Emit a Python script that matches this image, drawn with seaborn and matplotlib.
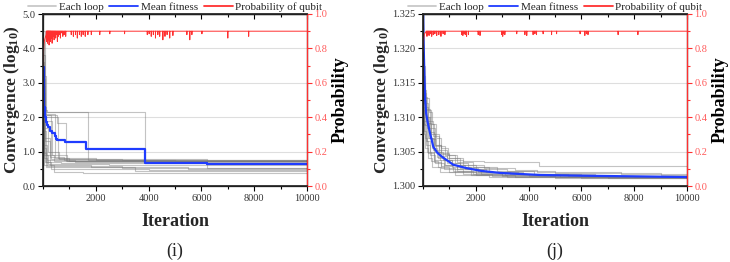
import numpy as np
import pandas as pd
import matplotlib
matplotlib.use("Agg")
import matplotlib.pyplot as plt
from matplotlib.lines import Line2D
from matplotlib.ticker import MultipleLocator, FormatStrFormatter
import seaborn as sns

# ---------------- data : panel (i) ----------------
loops_i = [
    [(0, 4.2), (40, 2.3), (120, 2.16), (3870, 0.74)],
    [(0, 3.8), (60, 2.2), (150, 2.16), (1690, 0.76)],
    [(0, 3.5), (50, 2.05), (300, 0.78), (6200, 0.52)],
    [(0, 3.2), (100, 2.05), (520, 1.82), (870, 0.74)],
    [(0, 4.5), (60, 2.1), (450, 0.80), (2000, 0.75)],
    [(0, 2.8), (30, 1.6), (100, 0.90), (400, 0.72)],
    [(0, 3.0), (40, 1.2), (150, 0.75), (1200, 0.70)],
    [(0, 2.5), (50, 0.9), (200, 0.65), (2500, 0.61)],
    [(0, 2.2), (40, 0.8), (150, 0.58), (3000, 0.51)],
    [(0, 2.6), (60, 0.7), (300, 0.50), (4000, 0.465)],
    [(0, 2.0), (50, 0.6), (400, 0.42), (1500, 0.39)],
    [(0, 3.3), (40, 1.4), (250, 0.85), (800, 0.76), (5000, 0.74)],
    [(0, 2.9), (70, 1.9), (350, 0.90), (900, 0.72)],
    [(0, 3.6), (50, 1.7), (200, 1.00), (600, 0.78), (3000, 0.755)],
    [(0, 2.4), (30, 1.1), (120, 0.70), (700, 0.68)],
    [(0, 2.7), (60, 1.3), (260, 0.62), (1800, 0.55), (5500, 0.50)],
    [(0, 3.1), (90, 2.0), (550, 0.80), (1000, 0.72)],
    [(0, 2.3), (40, 0.95), (100, 0.56), (3500, 0.45)],
]
mean_iter_i = [0, 20, 40, 70, 100, 145, 200, 274, 335, 440, 490, 520, 820,
               1645, 3860, 6200, 10000]
mean_val_i = [3.45, 2.8, 2.3, 2.0, 1.85, 1.77, 1.72, 1.60, 1.53, 1.45, 1.37,
              1.34, 1.28, 1.07, 0.66, 0.63, 0.63]
prob_base_i = 0.9
prob_ramp_iter_i = [0, 10, 25, 40, 60, 80, 100, 120]
prob_ramp_val_i = [0.70, 0.76, 0.80, 0.83, 0.85, 0.86, 0.87, 0.88]
prob_dip_iter_i = [140, 155, 170, 185, 200, 215, 230, 250, 265, 280, 300, 320,
                   345, 370, 395, 420, 450, 480, 510, 545, 580, 620, 660, 700,
                   750, 800, 860,
                   1070, 1150, 1230, 1300, 1380, 1450, 1520, 1600, 1700, 1830,
                   2150, 2530, 3090, 3950, 4020, 4100, 4180, 4260, 4350, 4420,
                   4540, 4620, 4700, 4800, 4920, 5450, 5560, 5640, 6020, 7000,
                   7790]
prob_dip_val_i = [0.84, 0.86, 0.83, 0.87, 0.85, 0.88, 0.82, 0.86, 0.87, 0.84,
                  0.88, 0.86, 0.83, 0.87, 0.88, 0.85, 0.87, 0.86, 0.88, 0.84,
                  0.87, 0.88, 0.86, 0.89, 0.87, 0.88, 0.87,
                  0.88, 0.87, 0.88, 0.86, 0.88, 0.87, 0.88, 0.87, 0.88, 0.88,
                  0.88, 0.885, 0.885, 0.88, 0.885, 0.87, 0.88, 0.86, 0.88,
                  0.87, 0.85, 0.87, 0.88, 0.86, 0.875, 0.88, 0.85, 0.88,
                  0.885, 0.86, 0.87]

# ---------------- data : panel (j) ----------------
loops_j = [
    [(0, 1.3160), (60, 1.3130), (150, 1.3110), (300, 1.3085), (450, 1.3060), (700, 1.3048),
     (1000, 1.3041), (1500, 1.3037), (2300, 1.3035), (4400, 1.3029)],
    [(0, 1.3145), (80, 1.3120), (200, 1.3095), (380, 1.3072), (600, 1.3052), (900, 1.3040),
     (1400, 1.3030), (2000, 1.3025), (3200, 1.3022), (5000, 1.3019), (9000, 1.3016)],
    [(0, 1.3185), (50, 1.3140), (120, 1.3100), (250, 1.3070), (400, 1.3050), (650, 1.3038),
     (1100, 1.3028), (1800, 1.3020), (3000, 1.3016), (6000, 1.3013)],
    [(0, 1.3130), (70, 1.3095), (180, 1.3070), (330, 1.3055), (520, 1.3042), (800, 1.3030),
     (1300, 1.3022), (2200, 1.3017), (4000, 1.3014), (7000, 1.3012)],
    [(0, 1.3120), (40, 1.3090), (100, 1.3065), (200, 1.3048), (400, 1.3035), (700, 1.3026),
     (1200, 1.3020), (2000, 1.3016), (3500, 1.3013)],
    [(0, 1.3150), (90, 1.3128), (220, 1.3108), (350, 1.3090), (500, 1.3070), (700, 1.3055),
     (950, 1.3045), (1300, 1.3035), (1900, 1.3028), (2800, 1.3022), (4200, 1.3018), (6500, 1.3015)],
    [(0, 1.3110), (50, 1.3080), (120, 1.3060), (260, 1.3045), (450, 1.3033), (800, 1.3024),
     (1500, 1.3018), (2600, 1.3015), (5000, 1.3012)],
    [(0, 1.3175), (60, 1.3135), (130, 1.3112), (280, 1.3090), (420, 1.3075), (600, 1.3058),
     (850, 1.3045), (1200, 1.3034), (1700, 1.3027), (2500, 1.3021), (3800, 1.3017), (6000, 1.3014)],
    [(0, 1.3100), (30, 1.3075), (90, 1.3055), (180, 1.3040), (350, 1.3028), (650, 1.3020),
     (1200, 1.3016), (2500, 1.3013)],
    [(0, 1.3140), (70, 1.3110), (160, 1.3085), (300, 1.3068), (480, 1.3050), (750, 1.3038),
     (1100, 1.3030), (1600, 1.3024), (2400, 1.3020), (3600, 1.3017), (5500, 1.3014)],
    [(0, 1.3125), (100, 1.3100), (240, 1.3078), (400, 1.3058), (600, 1.3044), (900, 1.3034),
     (1400, 1.3026), (2100, 1.3021), (3300, 1.3018), (4800, 1.3015), (8000, 1.3013)],
    [(0, 1.3160), (45, 1.3120), (110, 1.3092), (230, 1.3070), (380, 1.3052), (560, 1.3040),
     (850, 1.3031), (1300, 1.3024), (2000, 1.3019), (3100, 1.3016), (5200, 1.3013)],
    [(0, 1.3095), (60, 1.3070), (150, 1.3050), (300, 1.3036), (550, 1.3027), (1000, 1.3020),
     (1800, 1.3016), (3200, 1.3013), (6000, 1.3012)],
    [(0, 1.3138), (80, 1.3115), (190, 1.3092), (320, 1.3075), (470, 1.3060), (680, 1.3047),
     (1000, 1.3038), (1500, 1.3031), (2300, 1.3026), (3500, 1.3023), (4300, 1.3020), (7500, 1.3017)],
    [(0, 1.3115), (55, 1.3088), (140, 1.3066), (270, 1.3050), (430, 1.3038), (700, 1.3029),
     (1150, 1.3022), (1900, 1.3018), (3000, 1.3015), (5000, 1.3013)],
]
mean_iter_j = [0, 20, 40, 60, 80, 120, 180, 265, 390, 550, 770, 1000, 1140,
               1650, 2200, 2920, 4430, 6000, 8000, 10000]
mean_val_j = [1.3265, 1.3215, 1.3180, 1.3150, 1.3125, 1.3105, 1.3092, 1.3077,
              1.3057, 1.3048, 1.3041, 1.3035, 1.3031, 1.3026, 1.3022, 1.3019,
              1.3016, 1.3015, 1.3014, 1.3013]
prob_base_j = 0.9
prob_ramp_iter_j = [0, 15, 30, 50, 80, 110]
prob_ramp_val_j = [0.78, 0.83, 0.86, 0.88, 0.89, 0.895]
prob_dip_iter_j = [150, 190, 230, 280, 330, 390, 450, 520, 600, 680, 760, 830,
                   1470, 1510, 1550, 1600, 1650, 1720, 2090, 2160, 2980, 3020,
                   3060, 3100, 3550, 3860, 3930, 4170, 4240, 4300, 4550, 4870,
                   5060, 5950, 6130, 6190, 6250, 7390, 8140]
prob_dip_val_j = [0.87, 0.88, 0.875, 0.885, 0.87, 0.88, 0.885, 0.875, 0.88,
                  0.87, 0.885, 0.88, 0.88, 0.875, 0.885, 0.88, 0.87, 0.88,
                  0.88, 0.875, 0.88, 0.87, 0.885, 0.88, 0.885, 0.88, 0.875,
                  0.88, 0.885, 0.88, 0.885, 0.88, 0.885, 0.885, 0.875, 0.885,
                  0.88, 0.88, 0.88]

X_MAX = 10000
legend_labels = ["Each loop", "Mean fitness", "Probability of qubit"]

# ---------------- style ----------------
sns.set_theme(style="white")
plt.rcParams["font.family"] = ["Liberation Serif", "DejaVu Serif"]
plt.rcParams["mathtext.fontset"] = "custom"
plt.rcParams["mathtext.rm"] = "Liberation Serif"
plt.rcParams["mathtext.bf"] = "Liberation Serif:bold"
plt.rcParams["mathtext.default"] = "bf"

GRAY = "#7a7a7a"
BLUE = "#1f3cff"
RED = "#ff3030"
RED_TXT = "#ff5a5a"

fig = plt.figure(figsize=(7.3, 2.62), dpi=100)
W, H = 730, 262


def loops_frame(loops):
    rows = []
    for k, pts in enumerate(loops):
        for it, v in pts:
            rows.append((k, it, v))
        rows.append((k, X_MAX, pts[-1][1]))
    return pd.DataFrame(rows, columns=["loop", "iter", "val"])


def prob_frame(ramp_x, ramp_y, dip_x, dip_y, base):
    start = ramp_x[-1] + 1
    x = np.arange(start, X_MAX + 1)
    y = np.full(x.shape, base, dtype=float)
    y[np.array(dip_x) - start] = dip_y
    return pd.DataFrame({"iter": np.concatenate([ramp_x, x]),
                         "p": np.concatenate([ramp_y, y])})


def panel(left_px, loops, m_x, m_y, m_steps, prob_df, ylim, ymaj, ymin, yfmt,
          caption, ylab_x):
    ax = fig.add_axes([left_px / W, (H - 186) / H, 264 / W, 172 / H])
    df = loops_frame(loops)
    sns.lineplot(data=df, x="iter", y="val", units="loop", estimator=None,
                 color=GRAY, alpha=0.45, lw=0.8, drawstyle="steps-post",
                 ax=ax, legend=False)
    mdf = pd.DataFrame({"iter": m_x, "val": m_y})
    sns.lineplot(data=mdf, x="iter", y="val", color=BLUE, lw=1.6, ax=ax,
                 drawstyle="steps-post" if m_steps else "default",
                 estimator=None, sort=False, legend=False)
    ax.set_xlim(0, X_MAX)
    ax.set_ylim(*ylim)
    ax.set_xticks([2000, 4000, 6000, 8000, 10000])
    ax.xaxis.set_minor_locator(MultipleLocator(1000))
    ax.yaxis.set_major_locator(MultipleLocator(ymaj))
    ax.yaxis.set_minor_locator(MultipleLocator(ymin))
    ax.yaxis.set_major_formatter(FormatStrFormatter(yfmt))
    ax.grid(axis="y", which="major", color="#dedede", lw=0.8)
    ax.tick_params(axis="both", which="both", direction="out", labelsize=7.5,
                   labelcolor="#333333", color="black", width=0.8, pad=2)
    ax.tick_params(which="major", length=3.5)
    ax.tick_params(which="minor", length=2)
    ax.tick_params(axis="x", which="both", bottom=True, top=False)
    ax.tick_params(axis="y", which="both", left=True, right=False)
    for s in ax.spines.values():
        s.set_color("black")
        s.set_linewidth(0.9)
    top = ax.secondary_xaxis("top")
    top.set_xticks([2000, 4000, 6000, 8000, 10000])
    top.xaxis.set_minor_locator(MultipleLocator(1000))
    top.tick_params(which="both", direction="in", labeltop=False, color="black", width=0.8)
    top.tick_params(which="major", length=3.5)
    top.tick_params(which="minor", length=2)
    top.spines["top"].set_linewidth(0.9)

    ax.set_xlabel("Iteration", fontsize=13, fontweight="bold")
    ax.xaxis.set_label_coords(0.5, -0.155)
    ax.set_ylabel(r"Convergence (log$_{10}$)", fontsize=12.5, fontweight="bold")
    ax.yaxis.set_label_coords(ylab_x, 0.5)

    ax2 = ax.twinx()
    sns.lineplot(data=prob_df, x="iter", y="p", color=RED, lw=0.7, ax=ax2,
                 estimator=None, sort=False, legend=False)
    ax2.set_ylim(0, 1.0)
    ax2.set_xlim(0, X_MAX)
    ax2.yaxis.set_major_locator(MultipleLocator(0.2))
    ax2.yaxis.set_minor_locator(MultipleLocator(0.1))
    ax2.yaxis.set_major_formatter(FormatStrFormatter("%.1f"))
    ax2.tick_params(axis="y", which="both", direction="out", labelsize=7.5,
                    labelcolor=RED_TXT, color=RED, width=0.8, pad=2)
    ax2.tick_params(which="major", length=3.5)
    ax2.tick_params(which="minor", length=2)
    ax2.spines["right"].set_color(RED)
    ax2.spines["right"].set_linewidth(0.9)
    ax2.grid(False)
    ax2.set_ylabel("Probability", fontsize=13, fontweight="bold", color="black")
    ax2.yaxis.set_label_coords(1.095, 0.5)

    handles = [Line2D([], [], color="#c8c8c8", lw=1.3),
               Line2D([], [], color=BLUE, lw=1.3),
               Line2D([], [], color=RED, lw=1.3)]
    ax2.legend(handles, legend_labels, loc="lower center", bbox_to_anchor=(0.5, 1.012),
               ncol=3, frameon=False, fontsize=8, handlelength=2.6,
               handletextpad=0.25, columnspacing=0.5, borderaxespad=0, borderpad=0)
    fig.text((left_px + 132) / W, 1 - 251 / H, caption, ha="center", va="center",
             fontsize=13)


panel(43, loops_i, mean_iter_i, mean_val_i, True,
      prob_frame(prob_ramp_iter_i, prob_ramp_val_i, prob_dip_iter_i, prob_dip_val_i, prob_base_i),
      (0, 5.0), 1.0, 0.5, "%.1f", "(i)", -0.08)
panel(423, loops_j, mean_iter_j, mean_val_j, False,
      prob_frame(prob_ramp_iter_j, prob_ramp_val_j, prob_dip_iter_j, prob_dip_val_j, prob_base_j),
      (1.300, 1.325), 0.005, 0.0025, "%.3f", "(j)", -0.118)

fig.savefig("out.png", dpi=100)
